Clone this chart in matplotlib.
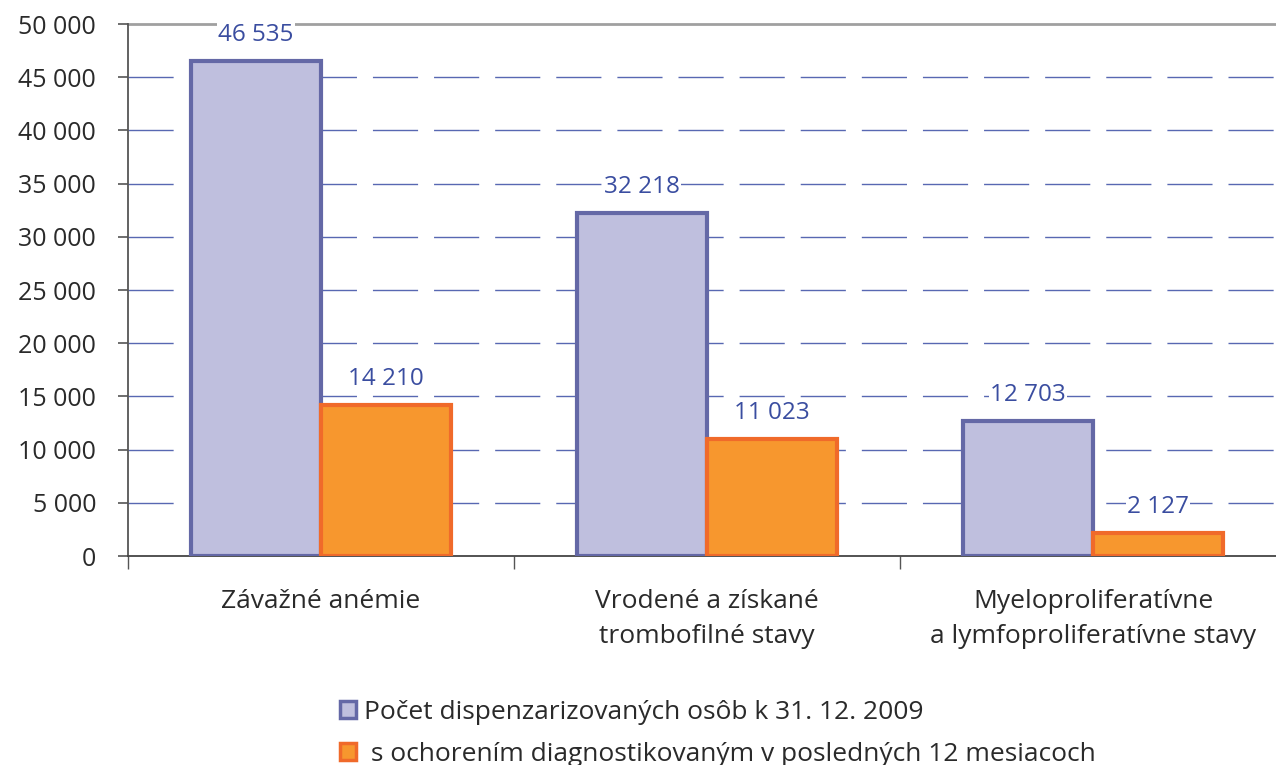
import matplotlib
matplotlib.use("Agg")
import matplotlib.pyplot as plt
from matplotlib.patches import Patch
import numpy as np

categories = ["Závažné anémie", "Vrodené a získané\ntrombofilné stavy",
              "Myeloproliferatívne\na lymfoproliferatívne stavy"]
series_names = ["Počet dispenzarizovaných osôb k 31. 12. 2009",
                " s ochorením diagnostikovaným v posledných 12 mesiacoch"]
dispenz = [46535, 32218, 12703]
new_cases = [14210, 11023, 2127]
yticks = list(range(0, 50001, 5000))

def fmt(v):
    return f"{v:,}".replace(",", " ")

plt.rcParams['font.family'] = ['Open Sans', 'DejaVu Sans']

W, H = 1276, 765
fig = plt.figure(figsize=(W/100, H/100), dpi=100)
ax = fig.add_axes([128/W, (H-556)/H, 1158/W, 532/H])

purple_fill, purple_edge = "#BFBFDE", "#6468A6"
orange_fill, orange_edge = "#F7972E", "#F06A2A"
label_col = "#3A4DA0"
text_col = "#2A2A2A"

x = np.arange(len(categories))
bw = 0.337
b1 = ax.bar(x - bw/2, dispenz, bw, color=purple_fill, edgecolor=purple_edge,
            linewidth=3, zorder=3, label=series_names[0])
b2 = ax.bar(x + bw/2, new_cases, bw, color=orange_fill, edgecolor=orange_edge,
            linewidth=3, zorder=3, label=series_names[1])

ax.set_xlim(-0.5, 2.5)
ax.set_ylim(0, 50000)
ax.set_yticks(yticks)
ax.set_yticklabels([fmt(v) for v in yticks], fontsize=18, color=text_col)

for v in yticks[1:-1]:
    ax.axhline(v, color="#5868B2", linewidth=1, linestyle=(0, (32.5, 11.5)), zorder=1)
ax.axhline(50000, color="#A0A0A0", linewidth=2, zorder=1, clip_on=False)

for s in ["top", "right"]:
    ax.spines[s].set_visible(False)
ax.spines["left"].set_color("#555555")
ax.spines["bottom"].set_color("#444444")
ax.spines["left"].set_linewidth(1.3)
ax.spines["bottom"].set_linewidth(1.3)
ax.tick_params(axis="y", length=7, width=1.2, color="#555555", pad=16)

ax.set_xticks([-0.5, 0.5, 1.5, 2.5])
ax.set_xticklabels([])
ax.tick_params(axis="x", length=9, width=1, color="#555555")
for xi, c in zip(x, categories):
    ax.annotate(c, (xi, 0), xytext=(0, -24), textcoords="offset points",
                ha="center", va="top", fontsize=19, color=text_col,
                linespacing=1.5, annotation_clip=False)

for bars, vals in [(b1, dispenz), (b2, new_cases)]:
    for r, v in zip(bars, vals):
        ax.annotate(fmt(v), (r.get_x() + r.get_width()/2, v), xytext=(0, 10),
                    textcoords="offset points", ha="center", va="bottom",
                    fontsize=17.5, color=label_col, zorder=5,
                    bbox=dict(boxstyle="square,pad=0.05", fc="white", ec="none"))

handles = [Patch(facecolor=purple_fill, edgecolor=purple_edge, linewidth=2.5),
           Patch(facecolor=orange_fill, edgecolor=orange_edge, linewidth=2.5)]
fig.legend(handles, series_names, loc="upper left",
           bbox_to_anchor=(340/W, 1 - 700/H), frameon=False, fontsize=19,
           handlelength=0.62, handleheight=0.62, handletextpad=0.3,
           labelspacing=0.65, labelcolor=text_col, borderaxespad=0, borderpad=0)

fig.savefig("out.png", dpi=100)
